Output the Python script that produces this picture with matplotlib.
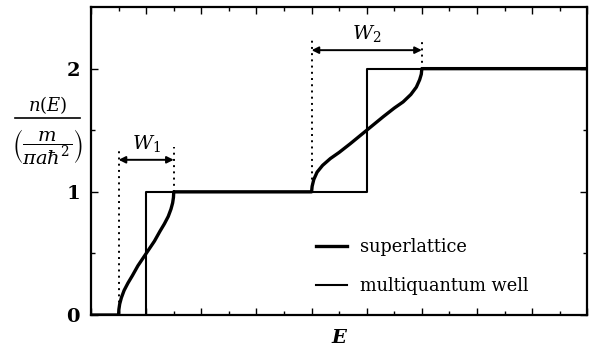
import matplotlib.pyplot as plt
import numpy as np

plt.rcParams['font.family'] = 'DejaVu Serif'
plt.rcParams['mathtext.fontset'] = 'dejavuserif'

# superlattice density of states (two minibands)
sl_E = [0.0, 0.5, 0.505, 0.52, 0.55, 0.6, 0.67, 0.75, 0.85, 1.0, 1.15, 1.25, 1.33, 1.4, 1.45, 1.48, 1.495, 1.5,
        4.0, 4.01, 4.04, 4.1, 4.2, 4.34, 4.5, 4.7, 5.0, 5.3, 5.5, 5.66, 5.8, 5.9, 5.96, 5.99, 6.0, 9.0]
sl_n = [0.0, 0.0, 0.045, 0.09, 0.14, 0.2, 0.26, 0.32, 0.4, 0.5, 0.6, 0.68, 0.74, 0.8, 0.86, 0.91, 0.955, 1.0,
        1.0, 1.045, 1.1, 1.16, 1.215, 1.27, 1.32, 1.39, 1.5, 1.61, 1.68, 1.73, 1.79, 1.85, 1.91, 1.955, 2.0, 2.0]

# multiquantum well staircase
mqw_E = [0.0, 1.0, 1.0, 5.0, 5.0, 9.0]
mqw_n = [0.0, 0.0, 1.0, 1.0, 2.0, 2.0]

# miniband widths: (start, end, arrow height, label)
bands = [(0.5, 1.5, 1.26, r'$W_1$'), (4.0, 6.0, 2.15, r'$W_2$')]

fig = plt.figure(figsize=(5.95, 3.52), dpi=100)
ax = fig.add_axes([0.153, 0.105, 0.834, 0.875])

ax.plot(sl_E, sl_n, color='black', lw=2.4, label='superlattice')
ax.plot(mqw_E, mqw_n, color='black', lw=1.5, label='multiquantum well')

for e0, e1, h, lab in bands:
    lo = sl_n[sl_E.index(e0)]
    hi = sl_n[sl_E.index(e1)]
    ax.plot([e0, e0], [lo, h + 0.1], color='black', lw=1.4, ls=(0, (1, 2.2)))
    ax.plot([e1, e1], [hi, h + 0.1], color='black', lw=1.4, ls=(0, (1, 2.2)))
    ax.annotate('', xy=(e0, h), xytext=(e1, h),
                arrowprops=dict(arrowstyle='<|-|>', color='black', lw=1.4,
                                mutation_scale=10, shrinkA=0, shrinkB=0))
    ax.text((e0 + e1) / 2, h + 0.05, lab, ha='center', va='bottom', fontsize=14)

ax.set_xlim(0, 9)
ax.set_ylim(0, 2.5)
ax.set_xticks(np.arange(0, 10, 1))
ax.set_xticks(np.arange(0.5, 9, 1), minor=True)
ax.set_yticks([0, 1, 2])
ax.set_yticks([0.5, 1.5], minor=True)
ax.set_yticklabels(['0', '1', '2'], fontweight='bold', fontsize=14)
ax.tick_params(which='both', direction='in', top=True, right=True, labelbottom=False, width=1)
ax.tick_params(which='major', length=5, pad=8)
ax.tick_params(which='minor', length=3)
for s in ax.spines.values():
    s.set_linewidth(1.6)

ax.set_xlabel('E', fontsize=14, fontweight='bold', style='italic', labelpad=10)

# y label as a stacked fraction: n(E) over (m / pi a hbar^2)
fig.text(0.08, 1 - 116 / 352, r'$n(E)$', ha='center', va='bottom', fontsize=13)
fig.add_artist(plt.Line2D([15 / 595, 80 / 595], [1 - 118 / 352] * 2, color='black', lw=1.2))
fig.text(0.08, 1 - 146 / 352, r'$\left(\dfrac{m}{\pi a\hbar^2}\right)$',
         ha='center', va='center', fontsize=14)

ax.legend(frameon=False, loc='lower left', bbox_to_anchor=(0.436, 0.036), borderpad=0,
          fontsize=12.8, handlelength=1.75, handletextpad=0.7, labelspacing=1.2)

fig.savefig('out.png', dpi=100)
